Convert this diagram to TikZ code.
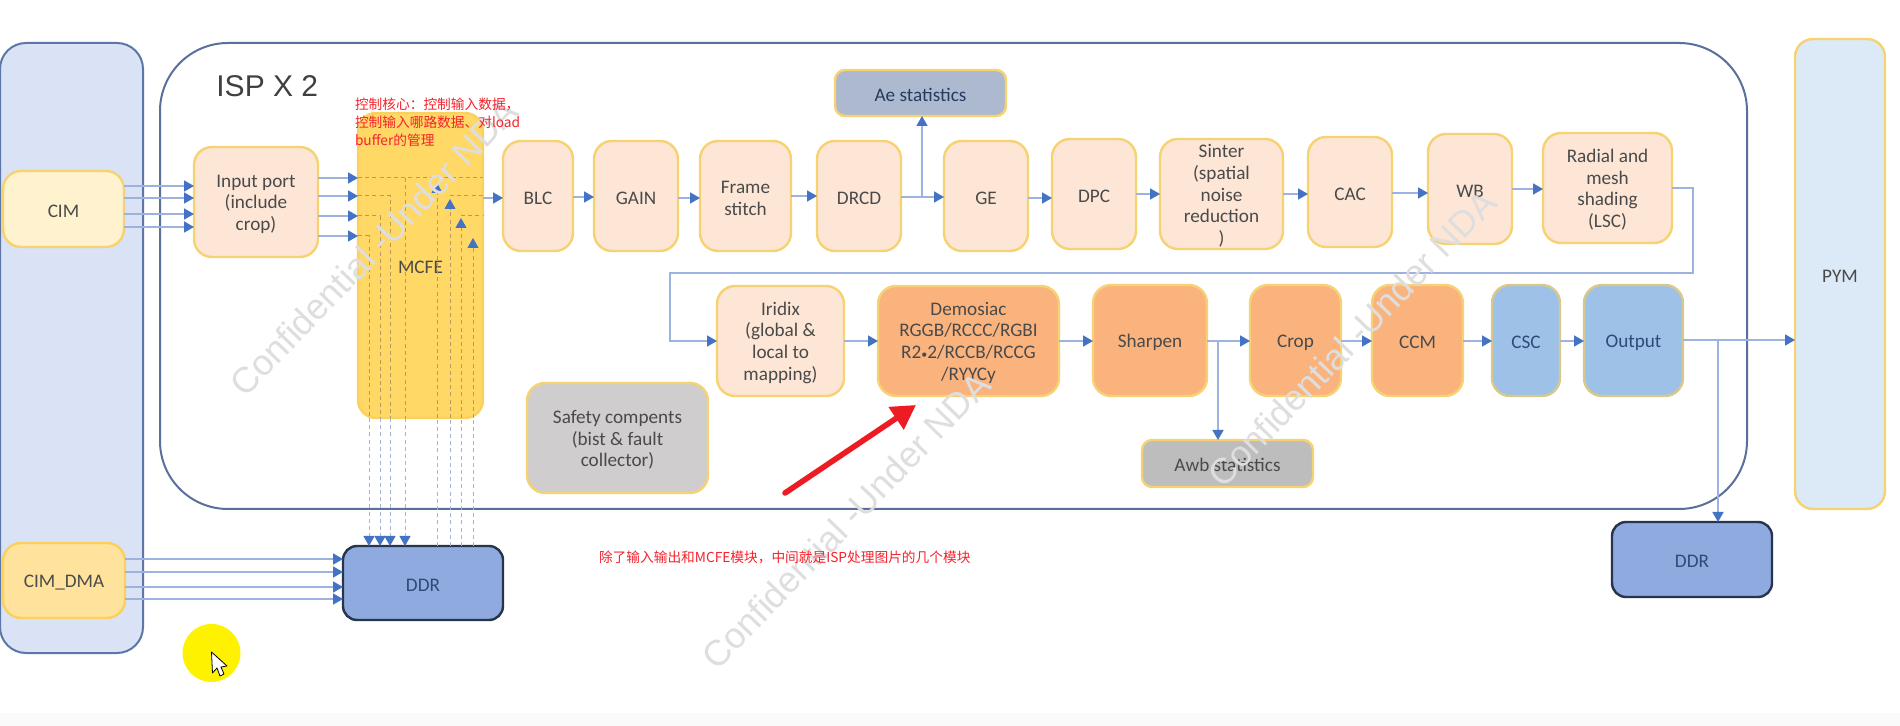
\documentclass[tikz,border=0pt]{standalone}
\usepackage{fontspec}
\setmainfont{Noto Sans CJK SC}
\newfontfamily\boxfont{Carlito}
\newfontfamily\titlefont{Liberation Sans}
\usetikzlibrary{arrows.meta,calc}
\definecolor{panelfill}{HTML}{D9E3F5}
\definecolor{panelline}{HTML}{5D76A8}
\definecolor{ispline}{HTML}{5B6F9C}
\definecolor{boxline}{HTML}{F7D272}
\definecolor{peach}{HTML}{FDE6D6}
\definecolor{orangebox}{HTML}{FBB37E}
\definecolor{bluebox}{HTML}{9DC1E7}
\definecolor{connline}{HTML}{9DB2DF}
\definecolor{tipblue}{HTML}{4472C4}
\definecolor{txt}{HTML}{4A4A4A}
\definecolor{darkblue}{HTML}{2F4A78}
\definecolor{redtxt}{HTML}{F5222D}
\definecolor{HTMLddr}{HTML}{8EAADE}
\definecolor{HTMLddrline}{HTML}{27344C}
\definecolor{HTMLdash}{HTML}{B79A62}
\definecolor{HTMLdashb}{HTML}{A3B3DA}
\definecolor{HTMLwm}{HTML}{DEDEDE}
\definecolor{HTMLcim}{HTML}{FFF2CF}
\definecolor{HTMLmcfe}{HTML}{FFD866}
\definecolor{HTMLmcfel}{HTML}{FAD05E}
\definecolor{HTMLae}{HTML}{ADB9CE}
\definecolor{HTMLcscl}{HTML}{D8C98A}
\definecolor{HTMLpym}{HTML}{DCE9F7}
\definecolor{HTMLsafe}{HTML}{CFCDCD}
\definecolor{HTMLawb}{HTML}{BDBDBD}
\definecolor{HTMLdma}{HTML}{FFE39C}
\definecolor{HTMLred}{HTML}{ED1C24}
\definecolor{HTMLyel}{HTML}{FFF200}
\tikzset{
  x=0.5pt,y=-0.5pt,
  box/.style={draw=boxline,line width=1.2pt,rounded corners=9pt,inner sep=0pt,outer sep=0pt,align=center,text=txt,font=\boxfont\fontsize{9.6}{10.9}\selectfont},
  smallr/.style={rounded corners=5pt},
  peachbox/.style={fill=peach},
  hotbox/.style={fill=orangebox},
  coolbox/.style={fill=bluebox,text=darkblue},
  ddrbox/.style={fill=HTMLddr,draw=HTMLddrline,text=darkblue,rounded corners=7pt},
  tipped/.style={-{Triangle[length=5pt,width=5.5pt,color=tipblue,fill=tipblue]}},
  conn/.style={draw=connline,line width=0.8pt},
  dashin/.style={draw=HTMLdash,line width=0.5pt,dash pattern=on 2pt off 1.6pt},
  dashout/.style={draw=HTMLdashb,line width=0.5pt,dash pattern=on 2pt off 1.6pt},
  note/.style={text=redtxt,font=\fontsize{6.85}{9}\selectfont,align=left,inner sep=0pt,outer sep=0pt},
  wmark/.style={text=HTMLwm,font=\titlefont\fontsize{18}{18}\selectfont,rotate=46,anchor=west,inner sep=0pt},
}
\newcommand{\bx}[7]{%
  \pgfmathsetmacro{\cxx}{(#2+#4)/2}\pgfmathsetmacro{\cyy}{(#3+#5)/2}%
  \pgfmathsetmacro{\ww}{(#4-#2)/2}\pgfmathsetmacro{\hh}{(#5-#3)/2}%
  \node[box,#6,minimum width=\ww pt,minimum height=\hh pt] (#1) at (\cxx,\cyy) {\rule{0pt}{8.4pt}#7};}
\newcommand{\hc}[3]{\draw[conn,tipped] (#1.east |- 0,#3) -- (#2.west |- 0,#3);}
\begin{document}
\begin{tikzpicture}
\useasboundingbox (0,0) rectangle (1900,726);
\fill[white] (0,0) rectangle (1900,726);
\fill[black!2] (0,713) rectangle (1900,726);
% containers
\bx{cimpanel}{0}{43}{143}{653}{draw=panelline,fill=panelfill,rounded corners=13pt,line width=1pt}{}
\bx{isp}{160}{43}{1747}{509}{draw=ispline,fill=white,rounded corners=34pt,line width=1pt}{}
\node[anchor=west,inner sep=0pt,text=black!75,font=\titlefont\fontsize{15}{15}\selectfont] (isptitle) at (216,86) {ISP X 2};
% boxes
\bx{cim}{3}{171}{124}{247}{fill=HTMLcim}{CIM}
\bx{input}{194}{147}{318}{257}{peachbox}{Input port\\(include\\crop)}
\bx{mcfe}{358}{113}{483}{418}{fill=HTMLmcfe,draw=HTMLmcfel}{MCFE}
\bx{blc}{503}{141}{573}{251}{peachbox}{BLC}
\bx{gain}{594}{141}{678}{251}{peachbox}{GAIN}
\bx{frame}{700}{141}{791}{251}{peachbox}{Frame\\stitch}
\bx{drcd}{817}{141}{901}{251}{peachbox}{DRCD}
\bx{ge}{944}{141}{1028}{251}{peachbox}{GE}
\bx{dpc}{1052}{139}{1136}{249}{peachbox}{DPC}
\bx{sinter}{1160}{139}{1283}{249}{peachbox}{Sinter\\(spatial\\noise\\reduction\\)}
\bx{cac}{1308}{137}{1392}{247}{peachbox}{CAC}
\bx{wb}{1428}{134}{1512}{244}{peachbox}{WB}
\bx{radial}{1543}{133}{1672}{243}{peachbox}{Radial and\\mesh\\shading\\(LSC)}
\bx{ae}{835}{70}{1006}{116}{fill=HTMLae,smallr,text=darkblue!80!black}{Ae statistics}
\bx{iridix}{717}{286}{844}{396}{peachbox}{Iridix\\(global \&\\local to\\mapping)}
\bx{demo}{878}{286}{1059}{396}{hotbox}{Demosiac\\RGGB/RCCC/RGBI\\R2{\fontsize{6}{6}\selectfont •}2/RCCB/RCCG\\/RYYCy}
\bx{sharpen}{1093}{285}{1207}{396}{hotbox}{Sharpen}
\bx{crop}{1250}{285}{1341}{396}{hotbox}{Crop}
\bx{ccm}{1372}{285}{1463}{396}{hotbox}{CCM}
\bx{csc}{1492}{285}{1560}{396}{coolbox,draw=HTMLcscl}{CSC}
\bx{output}{1584}{285}{1683}{396}{coolbox,draw=HTMLcscl}{Output}
\bx{pym}{1795}{39}{1885}{509}{fill=HTMLpym}{PYM}
\bx{safety}{527}{383}{708}{493}{fill=HTMLsafe}{Safety compents\\(bist \& fault\\collector)}
\bx{awb}{1142}{440}{1313}{487}{fill=HTMLawb,smallr}{Awb statistics}
\bx{cimdma}{3}{543}{125}{618}{fill=HTMLdma,draw=HTMLmcfel}{CIM\_DMA}
\bx{ddra}{343}{546}{503}{620}{ddrbox}{DDR}
\bx{ddrb}{1612}{522}{1772}{597}{ddrbox}{DDR}
% connectors: multi-lane
\foreach \yy in {186,198,214,227} {\hc{cim}{input}{\yy}}
\foreach \yy in {178,196,216,236} {\hc{input}{mcfe}{\yy}}
\foreach \yy in {559,572,587,599} {\hc{cimdma}{ddra}{\yy}}
% MCFE internals
\draw[dashin] (mcfe.west |- 0,178) -- (mcfe.east |- 0,178);
\draw[dashin] (405,178) -- (mcfe.south -| 405,0);
\draw[dashin] (mcfe.west |- 0,196) -| (mcfe.south -| 390,0);
\draw[dashin] (mcfe.west |- 0,216) -| (mcfe.south -| 380,0);
\draw[dashin] (mcfe.west |- 0,236) -| (mcfe.south -| 369,0);
\foreach \xx in {369,380,390,405} {\draw[dashout,tipped] (mcfe.south -| \xx,0) -- (ddra.north -| \xx,0);}
\foreach \xx/\yy in {437/183,450/199,461/218,473/238} {
  \draw[dashout] (ddra.north -| \xx,0) -- (mcfe.south -| \xx,0);
  \draw[dashin,tipped] (mcfe.south -| \xx,0) -- (\xx,\yy);}
\draw[dashin] (450,196) -- (mcfe.east |- 0,196);
\draw[dashin] (461,216) -- (mcfe.east |- 0,216);
% chain
\hc{mcfe}{blc}{198}
\hc{blc}{gain}{197}
\hc{gain}{frame}{198}
\hc{frame}{drcd}{196}
\hc{drcd}{ge}{197}
\hc{ge}{dpc}{198}
\hc{dpc}{sinter}{194}
\hc{sinter}{cac}{194}
\hc{cac}{wb}{193}
\hc{wb}{radial}{189}
\coordinate (aej) at (922,197);
\draw[conn,tipped] (aej) -- (ae.south -| aej);
\draw[conn,tipped] (radial.east |- 0,188) -- (1693,188) -- (1693,273) -- (670,273) -- (670,341) -- (iridix.west |- 0,341);
\hc{iridix}{demo}{341}
\hc{demo}{sharpen}{341}
\hc{sharpen}{crop}{341}
\hc{crop}{ccm}{341}
\hc{ccm}{csc}{341}
\hc{csc}{output}{341}
\coordinate (awbj) at (1218,341);
\draw[conn,tipped] (awbj) -- (awb.north -| awbj);
\hc{output}{pym}{340}
\coordinate (ddrj) at (1718,340);
\draw[conn,tipped] (ddrj) -- (ddrb.north -| ddrj);
% watermarks
\node[wmark] (wma) at (236,390) {Confidential -Under NDA};
\node[wmark] (wmb) at (708,663) {Confidential -Under NDA};
\node[wmark] (wmc) at (1214,481) {Confidential -Under NDA};
% annotations
\node[note,anchor=north west] (notea) at (355,98) {控制核心：控制输入数据，\\控制输入哪路数据、对load\\buffer的管理};
\node[note,anchor=west] (noteb) at (599,557) {除了输入输出和MCFE模块，中间就是ISP处理图片的几个模块};
\coordinate (rs) at (785,493);
\coordinate (re) at (916,405);
\draw[draw=HTMLred,line width=2.8pt,line cap=round,-{Triangle[length=12pt,width=13pt,color=HTMLred,fill=HTMLred]}] (rs) -- (re);
% pointer highlight
\fill[HTMLyel] (211.5,653) circle (29);
\draw[fill=white,draw=black,line width=0.4pt,line join=round] (211.5,652) -- (212.5,673) -- (217,668) -- (220,676) -- (224,674) -- (221,667) -- (227,666) -- cycle;
\end{tikzpicture}
\end{document}
